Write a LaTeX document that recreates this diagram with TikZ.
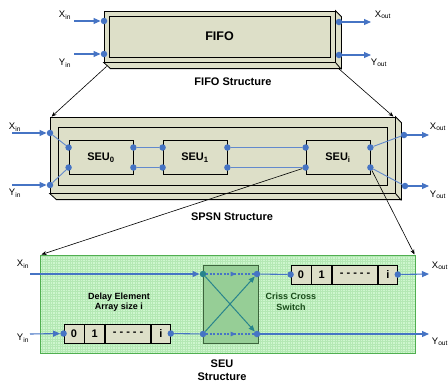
\documentclass[tikz,border=0pt]{standalone}
\usepackage{fontspec}
\setmainfont{Liberation Sans}
\usetikzlibrary{positioning,arrows.meta,calc,decorations.markings}
\definecolor{beige}{RGB}{221,223,200}
\definecolor{portblue}{RGB}{70,116,196}
\definecolor{seugreen}{RGB}{206,246,206}
\definecolor{gridgreen}{RGB}{180,232,180}
\definecolor{edgegreen}{RGB}{80,175,80}
\definecolor{switchgreen}{RGB}{150,206,150}
\definecolor{switchedge}{RGB}{60,100,60}
\definecolor{darkgreen}{RGB}{25,75,25}
\definecolor{crossteal}{RGB}{40,132,140}

\begin{document}
\begin{tikzpicture}[x=1pt,y=-1pt,
  every node/.style={font=\fontsize{9.5}{11}\selectfont},
  slab/.style={draw=black, fill=beige, line width=0.8pt},
  core/.style={draw=black, line width=0.8pt},
  unit/.style={draw=black, fill=beige, line width=0.8pt, minimum width=64pt, minimum height=34pt,
               font=\fontsize{11}{12}\selectfont\bfseries},
  cell/.style={draw=black, fill=beige, line width=0.8pt, minimum height=19pt, inner sep=0pt,
               font=\fontsize{11}{12}\selectfont\bfseries},
  port/.style={circle, fill=portblue, inner sep=0pt, minimum size=6.5pt},
  flow/.style={draw=portblue, line width=1.1pt, -{Triangle[length=7pt,width=6pt]}},
  wire/.style={draw=portblue!85, line width=0.9pt},
  pointer/.style={draw=black, line width=0.6pt, -{Stealth[length=5pt,width=4pt]}},
  crossline/.style={draw=crossteal, line width=1pt, -{Triangle[length=6pt,width=5pt]}},
  passline/.style={draw=portblue, line width=1.1pt, dash pattern=on 2pt off 1.5pt,
                   decoration={markings, mark=at position 0.62 with {\arrow{Triangle[length=5pt,width=4.5pt]}}},
                   postaction={decorate}},
  title/.style={font=\fontsize{11}{13}\selectfont\bfseries, align=center}
]
  \path[fill=white] (0,0) rectangle (448,383);
  \useasboundingbox (0,0) rectangle (448,383);

  % FIFO
  \node[slab, minimum width=231pt, minimum height=51pt] (fifo) at (219.5,36.5) {};
  \filldraw[slab] (fifo.north east) -- ++(6,6) -- ++(0,52) -- ++(-231,0) -- (fifo.south west)
    -- (fifo.south east) -- cycle;
  \draw[line width=0.8pt] (fifo.south east) -- ++(6,7);
  \node[core, minimum width=221pt, minimum height=41pt, font=\fontsize{12.5}{14}\selectfont\bfseries]
    (fifocore) at (fifo) {FIFO};

  \node[port] (fifoxin) at (104,21) {};
  \node[port] (fifoyin) at (104,54) {};
  \node[port] (fifoxout) at (339,22) {};
  \node[port] (fifoyout) at (339,55) {};
  \coordinate (fxin) at (74,21);
  \coordinate (fyin) at (74,54);
  \coordinate (fxout) at (371,22);
  \coordinate (fyout) at (371,55);
  \draw[flow] (fxin) -- (fifoxin);
  \draw[flow] (fyin) -- (fifoyin);
  \draw[flow] (fifoxout) -- (fxout);
  \draw[flow] (fifoyout) -- (fyout);
  \node (fxinlbl) at (65,15) {X\textsubscript{in}};
  \node (fyinlbl) at (65,63) {Y\textsubscript{in}};
  \node (fxoutlbl) at (383,15) {X\textsubscript{out}};
  \node (fyoutlbl) at (379,63) {Y\textsubscript{out}};
  \node[title] (fifotitle) at (233,82) {FIFO Structure};

  % SPSN
  \node[slab, minimum width=345pt, minimum height=76pt] (spsn) at (222.5,155) {};
  \filldraw[slab] (spsn.north east) -- ++(6,6) -- ++(0,77) -- ++(-345,0) -- (spsn.south west)
    -- (spsn.south east) -- cycle;
  \draw[line width=0.8pt] (spsn.south east) -- ++(6,7);
  \node[core, minimum width=329pt, minimum height=58pt] (spsncore) at (222.5,156) {};

  \node[unit] (seu0) at (101,157.5) {SEU\textsubscript{0}};
  \node[unit] (seu1) at (195,157.5) {SEU\textsubscript{1}};
  \node[unit] (seui) at (338,157.5) {SEU\textsubscript{i}};
  \foreach \u in {seu0,seu1,seui} {
    \node[port] (\u-lt) at ([yshift=10pt]\u.west) {};
    \node[port] (\u-lb) at ([yshift=-10pt]\u.west) {};
    \node[port] (\u-rt) at ([yshift=10pt]\u.east) {};
    \node[port] (\u-rb) at ([yshift=-10pt]\u.east) {};
  }
  \node[port] (spsnxin) at (50,133) {};
  \node[port] (spsnyin) at (50,185) {};
  \node[port] (spsnxout) at (404,135) {};
  \node[port] (spsnyout) at (405,186) {};
  \draw[wire] (spsnxin) -- (seu0-lt);
  \draw[wire] (spsnyin) -- (seu0-lb);
  \draw[wire] (seu0-rt) -- (seu1-lt);
  \draw[wire] (seu0-rb) -- (seu1-lb);
  \draw[wire] (seu1-rt) -- (seui-lt);
  \draw[wire] (seu1-rb) -- (seui-lb);
  \draw[wire] (seui-rt) -- (spsnxout);
  \draw[wire] (seui-rb) -- (spsnyout);
  \coordinate (pxin) at (12,133);
  \coordinate (pyin) at (12,185);
  \coordinate (pxout) at (429,135);
  \coordinate (pyout) at (429,186);
  \draw[flow] (pxin) -- (spsnxin);
  \draw[flow] (pyin) -- (spsnyin);
  \draw[flow] (spsnxout) -- (pxout);
  \draw[flow] (spsnyout) -- (pyout);
  \node (pxinlbl) at (15,127) {X\textsubscript{in}};
  \node (pyinlbl) at (15,193) {Y\textsubscript{in}};
  \node (pxoutlbl) at (438,127) {X\textsubscript{out}};
  \node (pyoutlbl) at (438,195) {Y\textsubscript{out}};
  \node[title] (spsntitle) at (232,217) {SPSN Structure};

  \draw[pointer] ($(fifo.south west)+(3,4)$) -- ([xshift=2pt]spsn.north west);
  \draw[pointer] ($(fifo.south east)+(3,6)$) -- ([xshift=-2pt]spsn.north east);

  % SEU
  \node[draw=edgegreen, line width=1pt, fill=seugreen, minimum width=375pt, minimum height=98pt,
        path picture={\draw[gridgreen, line width=0.3pt, step=2.5pt]
          (path picture bounding box.south west) grid (path picture bounding box.north east);}]
    (seu) at (227.5,304) {};
  \node[draw=switchedge, fill=switchgreen, line width=0.9pt, minimum width=55pt, minimum height=78pt]
    (switch) at (230.5,304) {};

  \node[cell, minimum width=20pt] (xa0) at (301,274.5) {0};
  \node[cell, minimum width=20pt, right=0pt of xa0] (xa1) {1};
  \node[cell, minimum width=45pt, right=0pt of xa1] (xadash) {- - - - -};
  \node[cell, minimum width=19pt, right=0pt of xadash] (xai) {i};
  \node[cell, minimum width=20pt] (ya0) at (74,333.5) {0};
  \node[cell, minimum width=20pt, right=0pt of ya0] (ya1) {1};
  \node[cell, minimum width=45pt, right=0pt of ya1] (yadash) {- - - - -};
  \node[cell, minimum width=19pt, right=0pt of yadash] (yai) {i};

  \node[port] (xain) at (xa0.west) {};
  \node[port] (xaout) at (xai.east) {};
  \node[port] (yain) at (ya0.west) {};
  \node[port] (yaout) at (yai.east) {};
  \node[port, fill=crossteal] (swtl) at (203,274) {};
  \node[port] (swtr) at (257,274) {};
  \node[port] (swbl) at (203,334) {};
  \node[port] (swbr) at (257,334) {};

  \coordinate (sxin) at (30,274);
  \coordinate (syin) at (30,334);
  \coordinate (sxout) at (429,274);
  \coordinate (syout) at (429,334);
  \draw[flow] (sxin) -- (swtl);
  \draw[flow] (syin) -- (yain);
  \draw[flow, -] (yaout) -- (swbl);
  \draw[flow, -] (swtr) -- (xain);
  \draw[flow] (xaout) -- (sxout);
  \draw[flow] (swbr) -- (syout);
  \draw[passline] (swtl) -- (swtr);
  \draw[passline] (swbl) -- (swbr);
  \draw[crossline] (swtl) -- (swbr);
  \draw[crossline] (swbl) -- (swtr);

  \node (sxinlbl) at (23,264) {X\textsubscript{in}};
  \node (syinlbl) at (23,338) {Y\textsubscript{in}};
  \node (sxoutlbl) at (440,266) {X\textsubscript{out}};
  \node (syoutlbl) at (440,342) {Y\textsubscript{out}};
  \node[font=\fontsize{9}{10.5}\selectfont\bfseries, align=center] (delaylbl) at (119,302)
    {Delay Element\\Array size i};
  \node[font=\fontsize{9}{10.5}\selectfont\bfseries, align=center, text=darkgreen] (switchlbl) at (291,302)
    {Criss Cross\\Switch};
  \node[title] (seutitle) at (222,370) {SEU\\Structure};

  \draw[pointer] (seui-lb) -- ([xshift=2pt]seu.north west);
  \draw[pointer] (seui-rb) -- ([xshift=-1pt]seu.north east);
\end{tikzpicture}
\end{document}
